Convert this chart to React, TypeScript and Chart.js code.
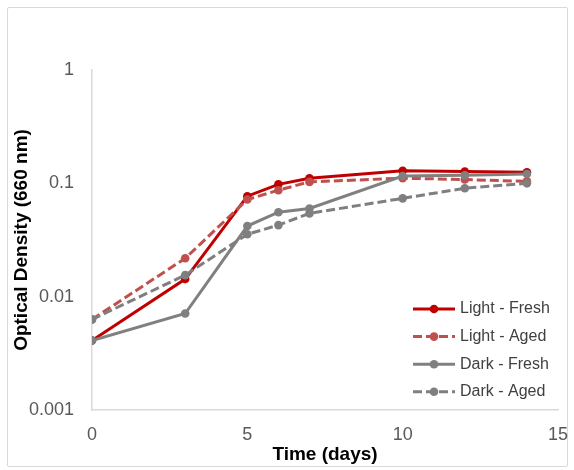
import React, { useEffect, useRef } from "react";
import { Chart, registerables } from "chart.js";

Chart.register(...registerables);

const days = [0, 3, 5, 6, 7, 10, 12, 14];
const lightFresh = [0.0041, 0.0143, 0.077, 0.098, 0.111, 0.129, 0.127, 0.125];
const lightAged = [0.0063, 0.0218, 0.072, 0.087, 0.103, 0.111, 0.108, 0.104];
const darkFresh = [0.0041, 0.0071, 0.042, 0.0556, 0.06, 0.116, 0.118, 0.121];
const darkAged = [0.0063, 0.0155, 0.0355, 0.0428, 0.0543, 0.0737, 0.0905, 0.1];

const seriesLabels = ["Light - Fresh", "Light - Aged", "Dark - Fresh", "Dark - Aged"];
const yTicks = [0.001, 0.01, 0.1, 1];
const xTicks = [0, 5, 10, 15];

const FONT = "'Liberation Sans', Arial, sans-serif";

const insideLegend = {
  id: "insideLegend",
  afterDraw(chart: any) {
    const ctx = chart.ctx;
    const area = chart.chartArea;
    const x0 = area.right - 145;
    const x1 = x0 + 42;
    const tx = x1 + 5;
    const y0 = area.bottom - 101;
    const dy = 27.6;
    ctx.save();
    chart.data.datasets.forEach((ds: any, i: number) => {
      const y = y0 + i * dy;
      ctx.strokeStyle = ds.borderColor;
      ctx.lineWidth = ds.borderWidth;
      ctx.setLineDash(ds.borderDash || []);
      ctx.beginPath();
      ctx.moveTo(x0, y);
      ctx.lineTo(x1, y);
      ctx.stroke();
      ctx.setLineDash([]);
      ctx.fillStyle = ds.pointBackgroundColor;
      ctx.beginPath();
      ctx.arc((x0 + x1) / 2, y, ds.pointRadius, 0, Math.PI * 2);
      ctx.fill();
      ctx.fillStyle = "#404040";
      ctx.font = `16px ${FONT}`;
      ctx.textBaseline = "middle";
      ctx.textAlign = "left";
      ctx.fillText(ds.label, tx, y);
    });
    ctx.restore();
  },
};

export default function App() {
  const ref = useRef<HTMLCanvasElement>(null);

  useEffect(() => {
    const mk = (label: string, values: number[], color: string, dashed: boolean, order: number) => ({
      label,
      data: days.map((d, i) => ({ x: d, y: values[i] })),
      borderColor: color,
      backgroundColor: color,
      pointBackgroundColor: color,
      pointBorderColor: color,
      pointRadius: 4.3,
      pointBorderWidth: 0,
      borderWidth: 3,
      borderDash: dashed ? [9, 4] : [],
      tension: 0,
      order,
    });
    const chart = new Chart(ref.current!, {
      type: "line",
      data: {
        datasets: [
          mk(seriesLabels[0], lightFresh, "#C00000", false, 3),
          mk(seriesLabels[1], lightAged, "#C0504D", true, 2),
          mk(seriesLabels[2], darkFresh, "#808080", false, 1),
          mk(seriesLabels[3], darkAged, "#7F7F7F", true, 0),
        ],
      },
      options: {
        animation: false,
        responsive: false,
        layout: { padding: { top: 70, right: 16, left: 0, bottom: 0 } },
        plugins: { legend: { display: false }, tooltip: { enabled: false } },
        scales: {
          x: {
            type: "linear",
            min: 0,
            max: 15,
            grid: { display: false, drawTicks: false },
            border: { display: true, color: "#D9D9D9", width: 1.5 },
            afterBuildTicks: (s: any) => {
              s.ticks = xTicks.map((v) => ({ value: v }));
            },
            afterFit: (s: any) => {
              s.height = 60;
              s.paddingRight = 0;
              s.paddingLeft = 0;
            },
            ticks: {
              padding: 14,
              color: "#595959",
              font: { family: FONT, size: 18 },
              maxRotation: 0,
            },
            title: {
              display: true,
              text: "Time (days)",
              color: "#000000",
              font: { family: FONT, size: 19, weight: "bold" },
              padding: { top: 0, bottom: 4 },
            },
          },
          y: {
            type: "logarithmic",
            min: 0.001,
            max: 1,
            grid: { display: false, drawTicks: false },
            border: { display: true, color: "#D9D9D9", width: 1.5 },
            afterBuildTicks: (s: any) => {
              s.ticks = yTicks.map((v) => ({ value: v }));
            },
            afterFit: (s: any) => {
              s.width = 92;
            },
            ticks: {
              padding: 18,
              color: "#595959",
              font: { family: FONT, size: 18 },
              callback: (v: any) => String(v),
            },
            title: {
              display: true,
              text: "Optical Density (660 nm)",
              color: "#000000",
              font: { family: FONT, size: 19, weight: "bold" },
              padding: { top: 10, bottom: 0 },
            },
          },
        },
      },
      plugins: [insideLegend],
    });
    return () => chart.destroy();
  }, []);

  return (
    <div style={{ position: "fixed", left: 0, top: 0, width: 574, height: 470, background: "#fff" }}>
      <div
        style={{
          position: "absolute",
          left: 7,
          top: 7,
          width: 559,
          height: 458,
          border: "1px solid #D9D9D9",
          borderRadius: 2,
        }}
      />
      <canvas ref={ref} width={574} height={470} style={{ position: "absolute", left: 0, top: 0 }} />
    </div>
  );
}
